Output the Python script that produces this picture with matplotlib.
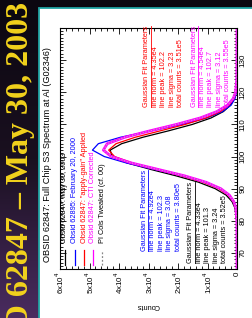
import matplotlib
matplotlib.use("Agg")
import matplotlib.pyplot as plt
import numpy as np
from matplotlib.lines import Line2D
from matplotlib.patches import Rectangle
from matplotlib.ticker import MultipleLocator

plt.rcParams['font.family'] = ['Liberation Sans', 'DejaVu Sans']

W, H = 252, 318

# spectra (PI channel vs counts)
channels = [65, 80, 84, 86, 88, 90, 92, 94, 96, 98, 100, 102, 104, 106, 108,
            110, 112, 114, 116, 118, 120, 124, 140]
obs_may03 = [0, 100, 700, 1700, 3700, 7400, 13000, 20700, 29300, 37200, 42300, 43000,
             39100, 31900, 23200, 15100, 8800, 4600, 2200, 900, 350, 50, 0]
obs_feb00 = [0, 50, 400, 1100, 2600, 5600, 10800, 18500, 28000, 37500, 45000, 49000,
             47000, 39500, 29000, 18500, 10200, 4900, 2000, 700, 200, 30, 0]
apply_gain = [0, 80, 500, 1300, 3000, 6200, 11500, 18800, 27300, 35500, 41500, 43500,
              41000, 34500, 26000, 17500, 10500, 5600, 2700, 1100, 400, 60, 0]
cti_corr = [0, 50, 400, 1100, 2600, 5500, 10500, 17800, 26800, 35800, 42600, 45300,
            44000, 38000, 29500, 20500, 12500, 6800, 3200, 1300, 500, 80, 0]
pi_tweaked = [0, 50, 400, 1100, 2600, 5500, 10500, 17800, 26800, 35800, 42600, 45300,
              44000, 38000, 29500, 20500, 12500, 6800, 3200, 1300, 500, 80, 0]

count_ticks = [0, 10000, 20000, 30000, 40000, 50000, 60000]
count_labels = ["0", r"1x10$^4$", r"2x10$^4$", r"3x10$^4$", r"4x10$^4$",
                r"5x10$^4$", r"6x10$^4$"]
chan_ticks = [70, 80, 90, 100, 110, 120, 130]

legend_labels = ["Obsid 62847: May 30, 2003",
                 "Obsid 62895: February 20, 2000",
                 'Obsid 62847: "apply-gain" Applied',
                 "Obsid 62847: CTI Corrected",
                 "PI Cols Tweaked (cf. 00)"]
legend_colors = ["black", "#0000ff", "#ff0000", "#ff00ff", "#888888"]
legend_text_colors = ["black", "#0000ff", "#ff0000", "#ff00ff", "black"]

fit_blue = ["line norm = 4.92e4", "line peak = 102.3", "line sigma = 3.08", "total counts = 3.80e5"]
fit_black = ["line norm = 4.33e4", "line peak = 101.3", "line sigma = 3.24", "total counts = 3.52e5"]
fit_red = ["line norm = 4.35e4", "line peak = 102.2", "line sigma = 3.23", "total counts = 3.51e5"]
fit_magenta = ["line norm = 4.54e4", "line peak = 102.7", "line sigma = 3.12", "total counts = 3.55e5"]


def fx(px):
    return px / W


def fy(py):
    return 1 - py / H


fig = plt.figure(figsize=(W / 100, H / 100), dpi=100)

# dark slide background + white panel with teal frame
bg = fig.add_axes([0, 0, 1, 1], zorder=-5)
grad = np.linspace(0, 1, 256).reshape(-1, 1)
cmap = matplotlib.colors.LinearSegmentedColormap.from_list("bg", ["#0b0710", "#1a1020", "#4a2c60"])
bg.imshow(grad, aspect="auto", cmap=cmap, extent=[0, 1, 0, 1], origin="upper")
bg.add_patch(Rectangle((fx(39), -0.01), 1.0, fy(8) + 0.01, facecolor="white",
                       edgecolor="#1fa3a3", linewidth=1.3))
bg.set_xlim(0, 1)
bg.set_ylim(0, 1)
bg.set_axis_off()

fig.text(fx(21), fy(2), "ObsID 62847 \u2013 May 30, 2003", rotation=90, ha="center", va="top",
         fontsize=23, color="#f2d21c", fontweight="bold", family="Liberation Serif")

fig.text(fx(48), fy(155), "OBSID 62847: Full Chip S3 Spectrum at Al (G02346)", rotation=90,
         ha="center", va="center", fontsize=6.6)

ax = fig.add_axes([fx(60), 1 - 269 / H, (237 - 60) / W, (269 - 28) / H])
ax.patch.set_alpha(0)
ax.plot(obs_may03, channels, color="black", lw=0.9)
ax.plot(obs_feb00, channels, color="#0000ff", lw=0.9)
ax.plot(apply_gain, channels, color="#ff0000", lw=0.9)
ax.plot(cti_corr, channels, color="#ff00ff", lw=2.0)
ax.plot(pi_tweaked, channels, color="#c0c0c0", lw=0.8, ls=(0, (1, 1.5)))

ax.set_xlim(60000, 0)
ax.set_ylim(65, 140)
ax.set_xticks(count_ticks)
ax.set_xticklabels(count_labels, rotation=90, fontsize=5.8)
ax.set_yticks(chan_ticks)
ax.set_yticklabels([str(c) for c in chan_ticks], rotation=90, va="center", fontsize=5.8)
ax.xaxis.set_minor_locator(MultipleLocator(2000))
ax.yaxis.set_minor_locator(MultipleLocator(1))
ax.yaxis.tick_right()
ax.tick_params(which="both", direction="in", top=True, bottom=True, left=True, right=True,
               width=0.6, labelleft=False, labeltop=False, labelright=True, labelbottom=True)
ax.tick_params(which="major", length=4, pad=2)
ax.tick_params(which="minor", length=2)
for s in ax.spines.values():
    s.set_linewidth(0.8)

fig.text(fx(148), fy(305), "Counts", rotation=180, ha="center", va="center", fontsize=5.3)

# legend drawn sideways
leg_x = [65, 75, 84, 93, 102]
for x, lab, lc, tc in zip(leg_x, legend_labels, legend_colors, legend_text_colors):
    ls = (0, (1.5, 1.5)) if lab.startswith("PI") else "-"
    fig.add_artist(Line2D([fx(x), fx(x)], [fy(265), fy(250)], transform=fig.transFigure,
                          color=lc, lw=0.9, ls=ls))
    fig.text(fx(x), fy(243), lab, rotation=90, ha="center", va="bottom", fontsize=5.3, color=tc)

# fit parameter blocks: (color, lines, header x, first line x, bottom y)
blocks = [("#0000ff", fit_blue, 144, 153, 251),
          ("black", fit_black, 191, 199.5, 263),
          ("#ff0000", fit_red, 147, 155.5, 107),
          ("#ff00ff", fit_magenta, 194, 202.5, 107)]
headers = []
for col, lines, hx, lx, yb in blocks:
    t = fig.text(fx(hx), fy(yb), "Gaussian Fit Parameters", rotation=90, ha="center",
                 va="bottom", fontsize=5.3, color=col)
    headers.append((t, col))
    for i, s in enumerate(lines):
        fig.text(fx(lx + 8.4 * i), fy(yb), s, rotation=90, ha="center", va="bottom",
                 fontsize=5.3, color=col)

fig.canvas.draw()
for t, col in headers:
    bb = t.get_window_extent()
    x = (bb.x1 + 0.6) / W
    fig.add_artist(Line2D([x, x], [bb.y0 / H, bb.y1 / H], transform=fig.transFigure,
                          color=col, lw=0.6))

fig.savefig("out.png", dpi=100)
